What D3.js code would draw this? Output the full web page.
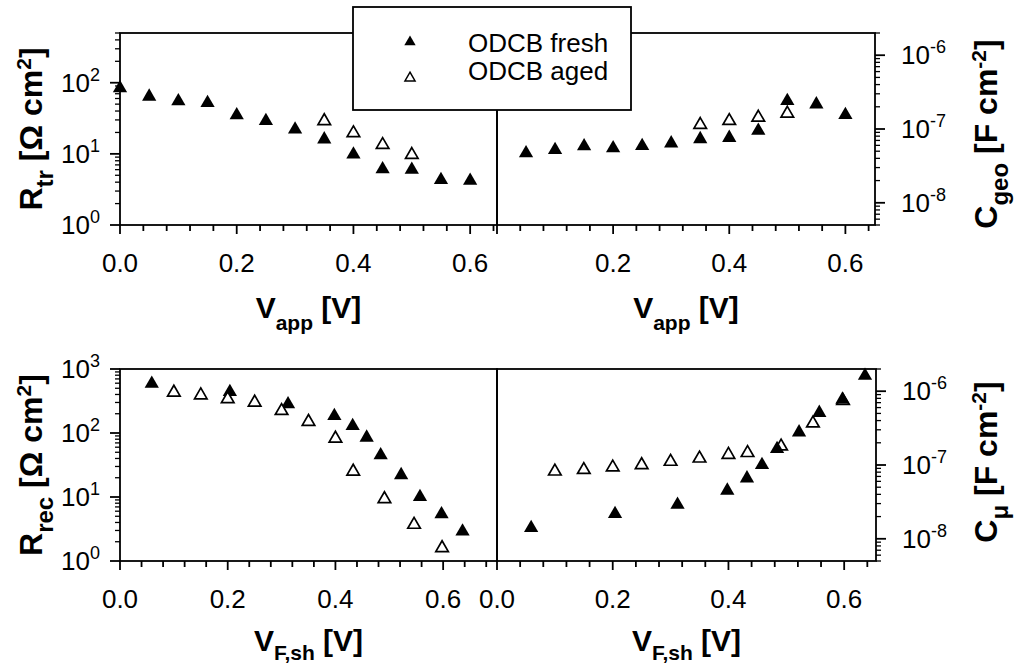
<!DOCTYPE html>
<html>
<head>
<meta charset="utf-8">
<script src="https://cdn.jsdelivr.net/npm/d3@7"></script>
<style>
  html, body { margin: 0; padding: 0; background: #fff; }
  svg { display: block; font-family: "Liberation Sans", Arial, sans-serif; }
</style>
</head>
<body>
<svg id="chart" width="1015" height="665"></svg>
<script>
// ---------------- DATA ----------------
// Top panels: applied voltage
const vappFresh = [0.00, 0.05, 0.10, 0.15, 0.20, 0.25, 0.30, 0.35, 0.40, 0.45, 0.50, 0.55, 0.60];
const rtrFresh  = [84, 64, 55, 52, 35, 29, 22, 16, 9.8, 6.1, 6.0, 4.3, 4.2];
const vappAged  = [0.35, 0.40, 0.45, 0.50];
const rtrAged   = [29, 19.6, 13.4, 9.7];

const vappCgeoFresh = [0.05, 0.10, 0.15, 0.20, 0.25, 0.30, 0.35, 0.40, 0.45, 0.50, 0.55, 0.60];
const cgeoFresh = [4.7e-8, 5.2e-8, 5.85e-8, 5.5e-8, 5.9e-8, 6.4e-8, 7.3e-8, 7.6e-8, 9.5e-8, 2.4e-7, 2.16e-7, 1.55e-7];
const vappCgeoAged = [0.35, 0.40, 0.45, 0.50];
const cgeoAged  = [1.14e-7, 1.29e-7, 1.43e-7, 1.62e-7];

// Bottom panels: shifted Fermi-level voltage
const vfFresh   = [0.059, 0.204, 0.312, 0.398, 0.432, 0.458, 0.484, 0.522, 0.557, 0.597, 0.636];
const rrecFresh = [589, 437, 282, 185, 129, 85, 45, 22, 10, 5.4, 2.9];
const cmuFresh  = [1.4e-8, 2.17e-8, 2.9e-8, 4.5e-8, 6.6e-8, 1.0e-7, 1.65e-7, 2.77e-7, 5.1e-7, 7.7e-7, 1.62e-6];
const vfAged    = [0.100, 0.150, 0.200, 0.250, 0.300, 0.350, 0.400, 0.433, 0.491, 0.546, 0.598];
const rrecAged  = [430, 390, 340, 300, 222, 150, 82, 25, 9.3, 3.7, 1.6];
const cmuAged   = [8.2e-8, 8.6e-8, 9.3e-8, 1.0e-7, 1.11e-7, 1.23e-7, 1.38e-7, 1.46e-7, 1.79e-7, 3.67e-7, 7.4e-7];

// Tick labels
const xTickLabels = ["0.0", "0.2", "0.4", "0.6"];
const xTickValues = [0.0, 0.2, 0.4, 0.6];
const legendLabels = ["ODCB fresh", "ODCB aged"];

// ---------------- DRAW ----------------
const svg = d3.select("#chart");
const SW = 1.8;

function drawPanel(p) {
  const x = d3.scaleLinear().domain(p.xDomain).range([p.left, p.right]);
  const y = d3.scaleLog().domain(p.yDomain).range([p.bottom, p.top]);
  const g = svg.append("g");

  // frame
  g.append("rect").attr("x", p.left).attr("y", p.top)
    .attr("width", p.right - p.left).attr("height", p.bottom - p.top)
    .attr("fill", "none").attr("stroke", "#000").attr("stroke-width", SW);

  // x ticks (minor every 0.04, major every 0.2)
  const minorX = d3.range(0, p.xDomain[1] + 1e-9, 0.04);
  g.selectAll(null).data(minorX).join("line")
    .attr("x1", d => x(d)).attr("x2", d => x(d))
    .attr("y1", p.bottom).attr("y2", d => p.bottom + (Math.abs(d / 0.2 - Math.round(d / 0.2)) < 1e-6 ? 9 : 6))
    .attr("stroke", "#000").attr("stroke-width", SW);

  // x tick labels
  xTickValues.forEach((v, i) => {
    if (p.skipX0 && v === 0) return;
    g.append("text").attr("x", x(v)).attr("y", p.bottom + 47)
      .attr("text-anchor", "middle").attr("font-size", 26).text(xTickLabels[i]);
  });

  // y ticks (log)
  const side = p.ySide === "left" ? -1 : 1;
  const ax = p.ySide === "left" ? p.left : p.right;
  const yt = y.ticks();
  const isMajor = d => Math.abs(Math.log10(d) - Math.round(Math.log10(d))) < 1e-6;
  g.selectAll(null).data(yt).join("line")
    .attr("x1", ax).attr("x2", d => ax + side * (isMajor(d) ? 10 : 5))
    .attr("y1", d => y(d)).attr("y2", d => y(d))
    .attr("stroke", "#000").attr("stroke-width", d => isMajor(d) ? SW : 1.3);

  yt.filter(isMajor).forEach(d => {
    const e = Math.round(Math.log10(d));
    const t = g.append("text").attr("font-size", 26)
      .attr("y", y(d) + 9)
      .attr("x", p.ySide === "left" ? p.left - 20 : p.right + 26)
      .attr("text-anchor", p.ySide === "left" ? "end" : "start");
    t.append("tspan").text("10");
    t.append("tspan").attr("font-size", 18).attr("dy", -11).text(String(e));
  });

  // y axis label (rotated)
  const lx = p.ySide === "left" ? 42 : 997;
  const ly = (p.top + p.bottom) / 2 + (p.ylabOffset || 0);
  const yl = g.append("text").attr("transform", `translate(${lx},${ly}) rotate(-90)`)
    .attr("text-anchor", "middle").attr("font-weight", "bold").attr("font-size", 32);
  yl.append("tspan").text(p.ylab[0]);
  yl.append("tspan").attr("font-size", 24).attr("dy", 11).text(p.ylab[1]);
  yl.append("tspan").attr("dy", -11).text(p.ylab[2]);
  yl.append("tspan").attr("font-size", 21).attr("dy", -11).text(p.ylab[3]);
  yl.append("tspan").attr("dy", 11).text("]");

  // x axis label
  const xl = g.append("text").attr("x", (p.left + p.right) / 2).attr("y", p.xlabY)
    .attr("text-anchor", "middle").attr("font-weight", "bold").attr("font-size", 30);
  xl.append("tspan").text("V");
  xl.append("tspan").attr("font-size", 21).attr("dy", p.subDy).text(p.xsub);
  xl.append("tspan").attr("dy", -p.subDy).text(" [V]");

  // data
  const fillTri = d3.symbol(d3.symbolTriangle, 88);
  const openTri = d3.symbol(d3.symbolTriangle, 68);
  p.series.forEach(s => {
    g.selectAll(null).data(s.xs.map((v, i) => [v, s.ys[i]])).join("path")
      .attr("transform", d => `translate(${x(d[0])},${y(d[1])})`)
      .attr("d", s.filled ? fillTri : openTri)
      .attr("fill", s.filled ? "#000" : "#fff")
      .attr("stroke", "#000").attr("stroke-width", s.filled ? 0 : 1.7);
  });
}

const C_DOMAIN = [5e-9, 2e-6];

drawPanel({
  left: 120, right: 497, top: 33, bottom: 225,
  xDomain: [0, 0.646], yDomain: [1, 500], ySide: "left",
  ylab: ["R", "tr", " [\u03A9 cm", "2"], xsub: "app", xlabY: 318, subDy: 12,
  series: [{xs: vappFresh, ys: rtrFresh, filled: true}, {xs: vappAged, ys: rtrAged, filled: false}]
});
drawPanel({
  left: 497, right: 875, top: 33, bottom: 225,
  xDomain: [0, 0.651], yDomain: C_DOMAIN, ySide: "right", skipX0: true,
  ylab: ["C", "geo", " [F cm", "-2"], xsub: "app", xlabY: 318, subDy: 12, ylabOffset: 5,
  series: [{xs: vappCgeoFresh, ys: cgeoFresh, filled: true}, {xs: vappCgeoAged, ys: cgeoAged, filled: false}]
});
drawPanel({
  left: 120, right: 497, top: 369, bottom: 561,
  xDomain: [0, 0.7], yDomain: [1, 1000], ySide: "left",
  ylab: ["R", "rec", " [\u03A9 cm", "2"], xsub: "F,sh", xlabY: 651, subDy: 9,
  series: [{xs: vfFresh, ys: rrecFresh, filled: true}, {xs: vfAged, ys: rrecAged, filled: false}]
});
drawPanel({
  left: 497, right: 876, top: 369, bottom: 561,
  xDomain: [0, 0.655], yDomain: C_DOMAIN, ySide: "right",
  ylab: ["C", "\u03BC", " [F cm", "-2"], xsub: "F,sh", xlabY: 651, subDy: 9, ylabOffset: -3,
  series: [{xs: vfAged, ys: cmuAged, filled: false}, {xs: vfFresh, ys: cmuFresh, filled: true}]
});

// legend
const lg = svg.append("g");
lg.append("rect").attr("x", 353).attr("y", 7).attr("width", 278).attr("height", 103)
  .attr("fill", "#fff").attr("stroke", "#000").attr("stroke-width", SW);
[[true, 42, 51.5], [false, 78, 80]].forEach((e, i) => {
  lg.append("path").attr("transform", `translate(410,${e[1]})`)
    .attr("d", d3.symbol(d3.symbolTriangle, e[0] ? 56 : 44)())
    .attr("fill", e[0] ? "#000" : "#fff").attr("stroke", "#000").attr("stroke-width", e[0] ? 0 : 1.5);
  lg.append("text").attr("x", 468).attr("y", e[2]).attr("font-size", 26).text(legendLabels[i]);
});
</script>
</body>
</html>
